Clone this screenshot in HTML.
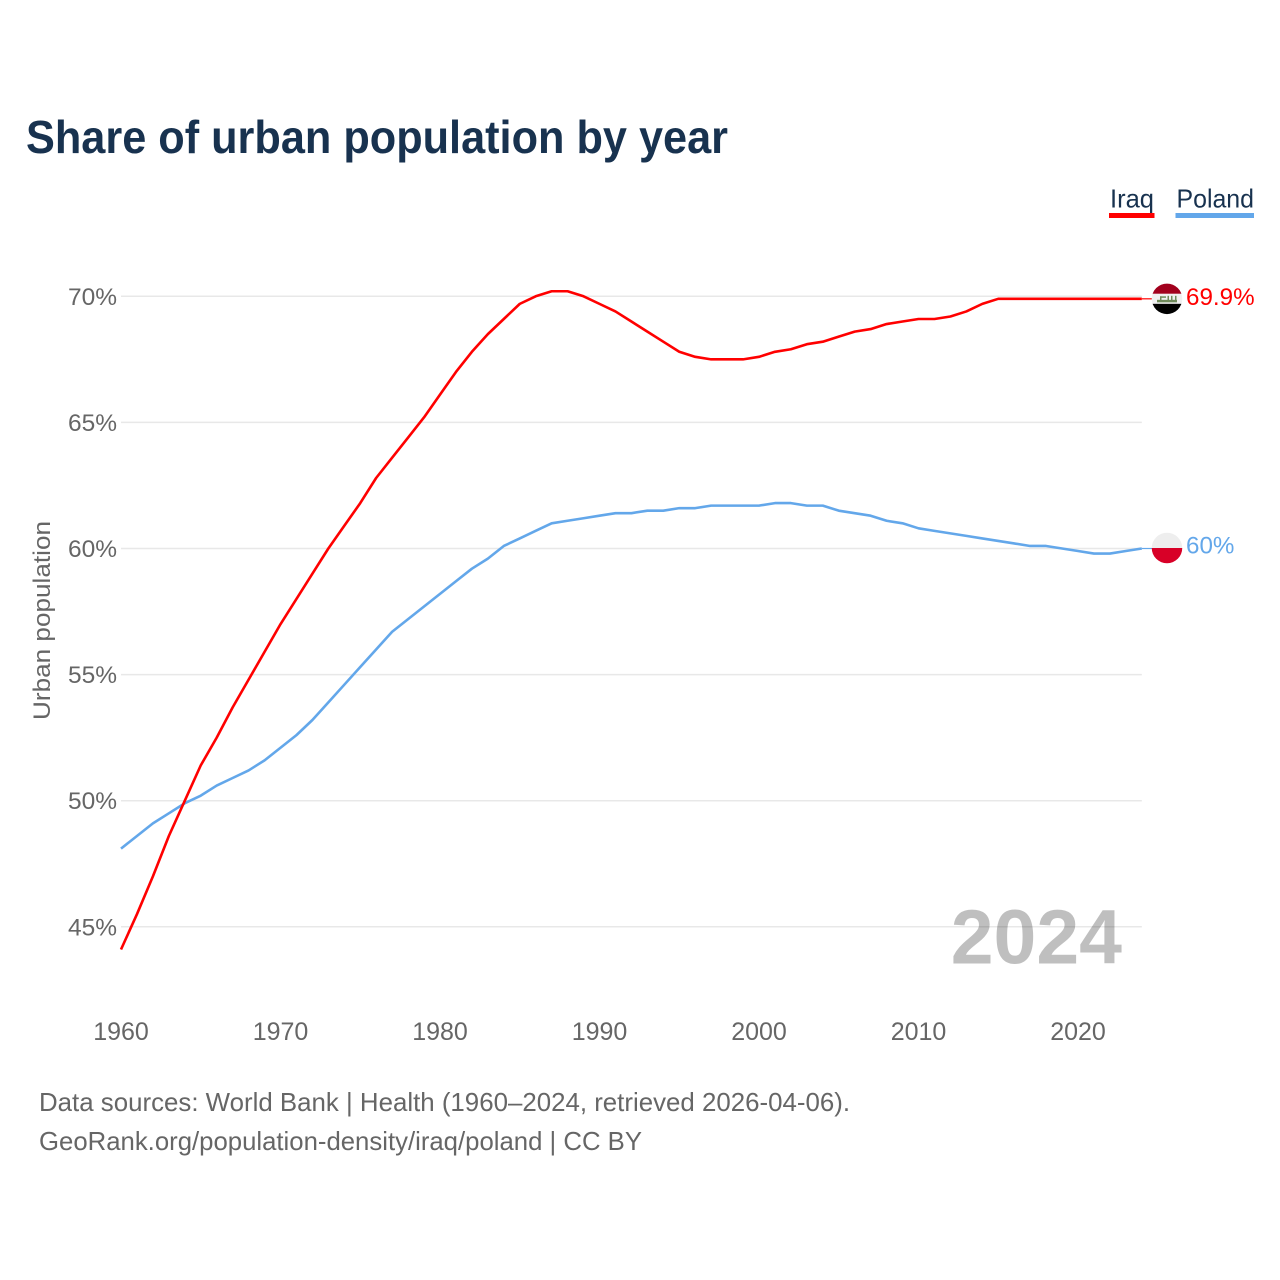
<!DOCTYPE html>
<html lang="en">
<head>
<meta charset="utf-8">
<title>Share of urban population by year</title>
<style>
html,body{margin:0;padding:0;background:#fff;width:1280px;height:1280px;overflow:hidden}
svg{display:block}
text{font-family:"Liberation Sans",sans-serif}
</style>
</head>
<body>
<svg id="chart" xmlns="http://www.w3.org/2000/svg" width="1280" height="1280" viewBox="0 0 1280 1280">
  <text x="26" y="153" font-size="46.5" font-weight="700" fill="#18324f" textLength="702" lengthAdjust="spacingAndGlyphs">Share of urban population by year</text>

  <g>
    <g>
      <text x="1110" y="207.5" font-size="26" fill="#18324f" textLength="44" lengthAdjust="spacingAndGlyphs">Iraq</text>
      <rect x="1109" y="213" width="45.5" height="5" fill="#ff0000"/>
    </g>
    <g>
      <text x="1176.5" y="207.5" font-size="26" fill="#18324f" textLength="77.5" lengthAdjust="spacingAndGlyphs">Poland</text>
      <rect x="1175.5" y="213" width="78.5" height="5" fill="#63a7ea"/>
    </g>
  </g>

  <g id="grid"></g>
  <g id="yticks"></g>
  <g id="xticks"></g>

  <text transform="translate(50,620.5) rotate(-90)" text-anchor="middle" font-size="24.5" fill="#666666" textLength="199" lengthAdjust="spacingAndGlyphs">Urban population</text>

  <text x="1122" y="963.5" text-anchor="end" font-size="77" font-weight="700" fill="#000000" fill-opacity="0.25">2024</text>

  <g id="series"></g>

  <g id="flag-iraq">
    <defs>
      <clipPath id="clip-iq"><circle cx="0" cy="0" r="15.25"/></clipPath>
      <clipPath id="clip-pl"><circle cx="0" cy="0" r="15.25"/></clipPath>
    </defs>
    <g clip-path="url(#clip-iq)">
      <rect x="-16" y="-16" width="32" height="11" fill="#a2001d"/>
      <rect x="-16" y="-5" width="32" height="10" fill="#f0f0f0"/>
      <rect x="-16" y="5" width="32" height="11" fill="#000000"/>
      <rect x="-10" y="1" width="20" height="2.5" fill="#6f8a5a"/>
      <rect x="-7" y="-2.5" width="6" height="1.5" fill="#6f8a5a"/>
      <rect x="-7" y="-2.5" width="1.5" height="4" fill="#6f8a5a"/>
      <rect x="0.5" y="-3" width="1.5" height="4.5" fill="#6f8a5a"/>
      <rect x="4" y="-3" width="1.5" height="4.5" fill="#6f8a5a"/>
      <rect x="8" y="-3" width="1.5" height="4.5" fill="#6f8a5a"/>
    </g>
  </g>
  <g id="flag-poland">
    <g clip-path="url(#clip-pl)">
      <rect x="-16" y="-16" width="32" height="16" fill="#eeeeee"/>
      <rect x="-16" y="0" width="32" height="16" fill="#d80027"/>
    </g>
  </g>

  <text id="label-iraq" x="1186" font-size="24.2" fill="#ff0000"></text>
  <text id="label-poland" x="1186" font-size="24.2" fill="#63a7ea"></text>

  <text x="39" y="1111" font-size="26" fill="#666666" textLength="811" lengthAdjust="spacingAndGlyphs">Data sources: World Bank | Health (1960–2024, retrieved 2026-04-06).</text>
  <text x="39" y="1150" font-size="26" fill="#666666" textLength="603" lengthAdjust="spacingAndGlyphs">GeoRank.org/population-density/iraq/poland | CC BY</text>
</svg>
<script>
const startYear = 1960;
const iraqValues = [44.1,45.5,47.0,48.6,50.0,51.4,52.5,53.7,54.8,55.9,57.0,58.0,59.0,60.0,60.9,61.8,62.8,63.6,64.4,65.2,66.1,67.0,67.8,68.5,69.1,69.7,70.0,70.2,70.2,70.0,69.7,69.4,69.0,68.6,68.2,67.8,67.6,67.5,67.5,67.5,67.6,67.8,67.9,68.1,68.2,68.4,68.6,68.7,68.9,69.0,69.1,69.1,69.2,69.4,69.7,69.9,69.9,69.9,69.9,69.9,69.9,69.9,69.9,69.9,69.9];
const polandValues = [48.1,48.6,49.1,49.5,49.9,50.2,50.6,50.9,51.2,51.6,52.1,52.6,53.2,53.9,54.6,55.3,56.0,56.7,57.2,57.7,58.2,58.7,59.2,59.6,60.1,60.4,60.7,61.0,61.1,61.2,61.3,61.4,61.4,61.5,61.5,61.6,61.6,61.7,61.7,61.7,61.7,61.8,61.8,61.7,61.7,61.5,61.4,61.3,61.1,61.0,60.8,60.7,60.6,60.5,60.4,60.3,60.2,60.1,60.1,60.0,59.9,59.8,59.8,59.9,60.0];
const yTickValues = [45,50,55,60,65,70];
const xTickYears = [1960,1970,1980,1990,2000,2010,2020];

const NS = 'http://www.w3.org/2000/svg';
function xScale(year){ return 121 + (year - 1960) * 15.95; }
function yScale(v){ return 548.5 - (v - 60) * 25.22; }
function make(tag, attrs){
  const el = document.createElementNS(NS, tag);
  for (const k in attrs) el.setAttribute(k, attrs[k]);
  return el;
}

const gridGroup = document.getElementById('grid');
const yTickGroup = document.getElementById('yticks');
const xTickGroup = document.getElementById('xticks');
const seriesGroup = document.getElementById('series');

yTickValues.forEach(function(v){
  const line = make('line', {x1: 121, x2: 1141.8, y1: yScale(v), y2: yScale(v), stroke: '#e8e8e8', 'stroke-width': 1.5});
  
  
  gridGroup.appendChild(line);
  const label = make('text', {x: 117, y: yScale(v) + 8.5, 'text-anchor': 'end', 'font-size': 24.5, fill: '#666666'});
  
  
  label.textContent = v + '%';
  yTickGroup.appendChild(label);
});

xTickYears.forEach(function(yr){
  const label = make('text', {x: xScale(yr), y: 1040, 'text-anchor': 'middle', 'font-size': 25, fill: '#666666'});
  
  
  label.textContent = String(yr);
  xTickGroup.appendChild(label);
});

function pathFor(values){
  return values.map(function(v, i){
    return (i ? 'L' : 'M') + xScale(startYear + i).toFixed(2) + ' ' + yScale(v).toFixed(2);
  }).join(' ');
}

const polandLine = make('path', {d: pathFor(polandValues), fill: 'none', stroke: '#63a7ea', 'stroke-width': 2.6, 'stroke-linejoin': 'round'});


seriesGroup.appendChild(polandLine);

const iraqLine = make('path', {d: pathFor(iraqValues), fill: 'none', stroke: '#ff0000', 'stroke-width': 2.6, 'stroke-linejoin': 'round'});


seriesGroup.appendChild(iraqLine);

const lastIraq = iraqValues[iraqValues.length - 1];
const lastPoland = polandValues[polandValues.length - 1];
const lastX = xScale(startYear + iraqValues.length - 1);

const connIraq = make('line', {x1: lastX, x2: 1152, y1: yScale(lastIraq), y2: yScale(lastIraq), stroke: '#ff0000', 'stroke-width': 1.2});


seriesGroup.appendChild(connIraq);

const connPoland = make('line', {x1: lastX, x2: 1152, y1: yScale(lastPoland), y2: yScale(lastPoland), stroke: '#63a7ea', 'stroke-width': 1.2});


seriesGroup.appendChild(connPoland);

document.getElementById('flag-iraq').setAttribute('transform', 'translate(1167,' + yScale(lastIraq) + ')');
document.getElementById('flag-poland').setAttribute('transform', 'translate(1167,' + (yScale(lastPoland) - 0.5) + ')');

const labelIraq = document.getElementById('label-iraq');
labelIraq.setAttribute('y', yScale(lastIraq) + 6);
labelIraq.textContent = lastIraq + '%';
const labelPoland = document.getElementById('label-poland');
labelPoland.setAttribute('y', yScale(lastPoland) + 5);
labelPoland.textContent = lastPoland + '%';
</script>
</body>
</html>
